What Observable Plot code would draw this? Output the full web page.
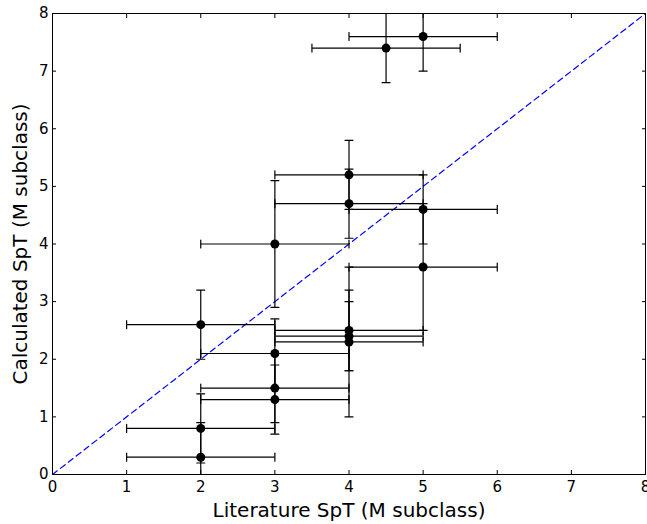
<!DOCTYPE html>
<html>
<head>
<meta charset="utf-8">
<script src="https://cdn.jsdelivr.net/npm/d3@7"></script>
<script src="https://cdn.jsdelivr.net/npm/@observablehq/plot@0.6"></script>
<style>
  html, body { margin: 0; padding: 0; background: white; }
  svg { overflow: visible; }
</style>
</head>
<body>
<div id="chart"></div>
<script>
// Literature vs calculated spectral type (M subclass)
const litSpT  = [4.5, 5.0, 4.0, 4.0, 5.0, 3.0, 5.0, 2.0, 4.0, 4.0, 4.0, 3.0, 3.0, 3.0, 2.0, 2.0];
const calcSpT = [7.4, 7.6, 5.2, 4.7, 4.6, 4.0, 3.6, 2.6, 2.5, 2.4, 2.3, 2.1, 1.5, 1.3, 0.8, 0.3];
const litErr  = [1, 1, 1, 1, 1, 1, 1, 1, 1, 1, 1, 1, 1, 1, 1, 1];
const calcErr = [0.6, 0.6, 0.6, 0.6, 0.6, 1.1, 1.1, 0.6, 0.7, 0.6, 1.3, 0.6, 0.6, 0.6, 0.6, 0.6];
const axisTicks = [0, 1, 2, 3, 4, 5, 6, 7, 8];
const diagonal = [0, 8];

const data = litSpT.map((x, i) => ({x, y: calcSpT[i], xe: litErr[i], ye: calcErr[i]}));

const capShape = {draw(ctx, l) { ctx.moveTo(0, 0); ctx.lineTo(0, -l); }};
const font = "DejaVu Sans";

const chart = Plot.plot({
  width: 647,
  height: 524,
  marginLeft: 52,
  marginRight: 2,
  marginTop: 13,
  marginBottom: 50,
  style: {fontFamily: font, fontSize: "15px", color: "black", background: "white", overflow: "visible"},
  x: {domain: [0, 8], label: null},
  y: {domain: [0, 8], label: null},
  marks: [
    // diagonal 1:1 line
    Plot.line(diagonal, {x: d => d, y: d => d, stroke: "#0000ff", strokeWidth: 1.2, strokeDasharray: "6,4", clip: true}),
    // horizontal error bars
    Plot.link(data, {x1: d => d.x - d.xe, x2: d => d.x + d.xe, y1: "y", y2: "y", stroke: "black", strokeWidth: 1.2, clip: true}),
    // vertical error bars
    Plot.link(data, {x1: "x", x2: "x", y1: d => d.y - d.ye, y2: d => d.y + d.ye, stroke: "black", strokeWidth: 1.2, clip: true}),
    // caps for horizontal bars (vertical ticks)
    Plot.vector(data, {x: d => d.x - d.xe, y: "y", length: 8, rotate: 0, anchor: "middle", shape: capShape, stroke: "black", strokeWidth: 1.2, clip: true}),
    Plot.vector(data, {x: d => d.x + d.xe, y: "y", length: 8, rotate: 0, anchor: "middle", shape: capShape, stroke: "black", strokeWidth: 1.2, clip: true}),
    // caps for vertical bars (horizontal ticks)
    Plot.vector(data, {x: "x", y: d => d.y - d.ye, length: 8, rotate: 90, anchor: "middle", shape: capShape, stroke: "black", strokeWidth: 1.2, clip: true}),
    Plot.vector(data, {x: "x", y: d => d.y + d.ye, length: 8, rotate: 90, anchor: "middle", shape: capShape, stroke: "black", strokeWidth: 1.2, clip: true}),
    // points
    Plot.dot(data, {x: "x", y: "y", r: 4.5, fill: "black", stroke: "none"}),
    // axes with inward ticks
    Plot.axisX(axisTicks, {anchor: "bottom", tickSize: -4, tickPadding: 11, tickFormat: d => String(d), fontSize: 15, stroke: "black", fill: "black"}),
    Plot.axisX(axisTicks, {anchor: "top", tickSize: -4, tickFormat: null, text: null, label: null, stroke: "black"}),
    Plot.axisY(axisTicks, {anchor: "left", tickSize: -4, tickPadding: 8, tickFormat: d => String(d), fontSize: 15, stroke: "black"}),
    Plot.axisY(axisTicks, {anchor: "right", tickSize: -4, tickFormat: null, text: null, label: null, stroke: "black"}),
    Plot.frame({stroke: "black", strokeWidth: 1}),
    // axis titles
    Plot.text(["Literature SpT (M subclass)"], {frameAnchor: "bottom", dy: 42, fontSize: 20, fill: "black"}),
    Plot.text(["Calculated SpT (M subclass)"], {frameAnchor: "left", dx: -32, rotate: -90, textAnchor: "middle", fontSize: 20, fill: "black"})
  ]
});

document.getElementById("chart").appendChild(chart);
</script>
</body>
</html>
